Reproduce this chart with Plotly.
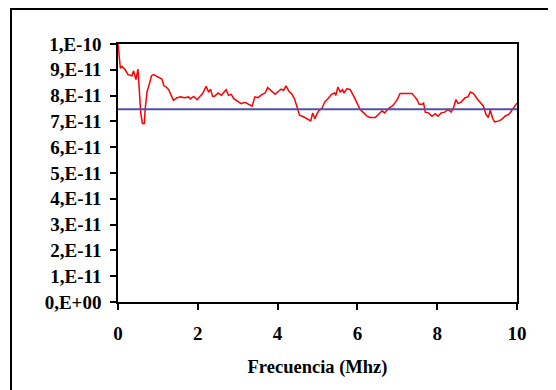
import plotly.graph_objects as go

# Frequency (MHz) and measured value (in units of 1e-11)
freq = [0, 0.06, 0.1, 0.18, 0.25, 0.35, 0.39, 0.45, 0.5, 0.53, 0.57, 0.61, 0.66, 0.68, 0.73, 0.77,
        0.84, 0.89, 1.02, 1.10, 1.15, 1.21, 1.27, 1.32, 1.39, 1.47, 1.56, 1.67, 1.77, 1.81, 1.90,
        1.98, 2.06, 2.12, 2.21, 2.27, 2.32, 2.37, 2.42, 2.51, 2.59, 2.71, 2.77, 2.84, 2.90, 2.98,
        3.09, 3.18, 3.28, 3.36, 3.43, 3.51, 3.61, 3.69, 3.75, 3.84, 3.94, 4.03, 4.09, 4.15, 4.21,
        4.28, 4.36, 4.43, 4.49, 4.55, 4.66, 4.78, 4.83, 4.88, 4.93, 4.99, 5.04, 5.11, 5.18, 5.26,
        5.35, 5.43, 5.46, 5.51, 5.57, 5.63, 5.66, 5.74, 5.82, 5.91, 5.99, 6.07, 6.16, 6.24, 6.32,
        6.45, 6.53, 6.62, 6.68, 6.74, 6.80, 6.87, 6.93, 7.0, 7.07, 7.18, 7.37, 7.43, 7.49, 7.55,
        7.62, 7.66, 7.70, 7.78, 7.87, 7.95, 8.02, 8.10, 8.19, 8.27, 8.35, 8.41, 8.47, 8.52, 8.60,
        8.70, 8.77, 8.83, 8.91, 9.0, 9.08, 9.16, 9.22, 9.28, 9.33, 9.39, 9.44, 9.53, 9.61, 9.70,
        9.80, 9.86, 9.93, 10.0]
value_e11 = [10.0, 9.06, 9.13, 9.0, 8.81, 8.77, 8.96, 8.62, 9.03, 8.42, 7.33, 6.92, 6.92, 7.46, 8.17, 8.36,
             8.77, 8.81, 8.72, 8.64, 8.38, 8.33, 8.23, 8.04, 7.82, 7.91, 7.95, 7.92, 7.95, 7.87, 7.97,
             7.84, 8.0, 8.08, 8.36, 8.13, 8.25, 7.97, 7.97, 8.1, 8.01, 8.23, 8.01, 8.05, 7.88, 7.79,
             7.69, 7.74, 7.66, 7.59, 7.95, 7.92, 8.05, 8.1, 8.31, 8.18, 8.05, 8.18, 8.25, 8.2, 8.38,
             8.18, 8.05, 7.85, 7.5, 7.24, 7.17, 7.07, 7.02, 7.33, 7.1, 7.3, 7.43, 7.5, 7.75, 7.88,
             8.05, 8.1, 8.01, 8.33, 8.14, 8.23, 8.1, 8.27, 8.23, 7.97, 7.69, 7.46, 7.33, 7.2, 7.15,
             7.15, 7.28, 7.41, 7.33, 7.43, 7.53, 7.59, 7.69, 7.85, 8.08, 8.08, 8.08, 7.97, 7.85, 7.66,
             7.66, 7.71, 7.36, 7.33, 7.2, 7.30, 7.2, 7.33, 7.36, 7.46, 7.36, 7.53, 7.85, 7.69, 7.75,
             7.92, 7.95, 8.14, 8.08, 7.88, 7.75, 7.59, 7.28, 7.15, 7.43, 7.11, 6.98, 7.01, 7.07, 7.2,
             7.28, 7.43, 7.56, 7.71]
reference_e11 = 7.47

y_tick_vals_e11 = list(range(0, 11))
y_tick_text = ["0,E+00", "1,E-11", "2,E-11", "3,E-11", "4,E-11", "5,E-11",
               "6,E-11", "7,E-11", "8,E-11", "9,E-11", "1,E-10"]
x_tick_vals = [0, 2, 4, 6, 8, 10]

font_family = "Liberation Serif"

fig = go.Figure()
fig.add_trace(go.Scatter(x=freq, y=[v * 1e-11 for v in value_e11], mode="lines",
                         line=dict(color="#FF0000", width=1.5), showlegend=False))
fig.add_trace(go.Scatter(x=[freq[0], freq[-1]], y=[reference_e11 * 1e-11] * 2, mode="lines",
                         line=dict(color="#5050A8", width=2), showlegend=False))

# the page body adds an 8px offset; compensate so the plot lands where the reference has it
OFF = 8
W, H = 556, 390
L, R, T, B = 118 - OFF, 517 - OFF, 44 - OFF, 302.5 - OFF
fig.update_layout(
    width=W, height=H,
    margin=dict(l=L, r=W - R, t=T, b=H - B, pad=0),
    paper_bgcolor="white", plot_bgcolor="white",
    font=dict(family=font_family, color="black", size=19),
    xaxis=dict(range=[0, 10], tickvals=x_tick_vals, ticktext=[str(v) for v in x_tick_vals],
               showgrid=False, zeroline=False, showline=True, linecolor="black", linewidth=1.5,
               mirror=True, ticks="outside", ticklen=6, tickcolor="black", tickwidth=1.5,
               ticklabelstandoff=7,
               tickfont=dict(family=font_family, size=19, weight="bold"),
               title=dict(text="<b>Frecuencia (Mhz)</b>", font=dict(family=font_family, size=18.5),
                          standoff=18)),
    yaxis=dict(range=[0, 1e-10], tickvals=[v * 1e-11 for v in y_tick_vals_e11], ticktext=y_tick_text,
               showgrid=False, zeroline=False, showline=True, linecolor="black", linewidth=1.5,
               mirror=True, ticks="outside", ticklen=6, tickcolor="black", tickwidth=1.5,
               ticklabelstandoff=5,
               tickfont=dict(family=font_family, size=19, weight="bold")),
)

# outer chart frame (top and left edges visible); top edge kept just inside the figure
pw, ph = R - L, B - T
fig.add_shape(type="rect", xref="paper", yref="paper",
              x0=(11 - OFF - L) / pw, x1=(W + 20 - L) / pw,
              y0=(B - (H + 20)) / ph, y1=(B - 0.9) / ph,
              line=dict(color="black", width=2), fillcolor="rgba(0,0,0,0)", layer="above")

fig.write_html("out.html")
